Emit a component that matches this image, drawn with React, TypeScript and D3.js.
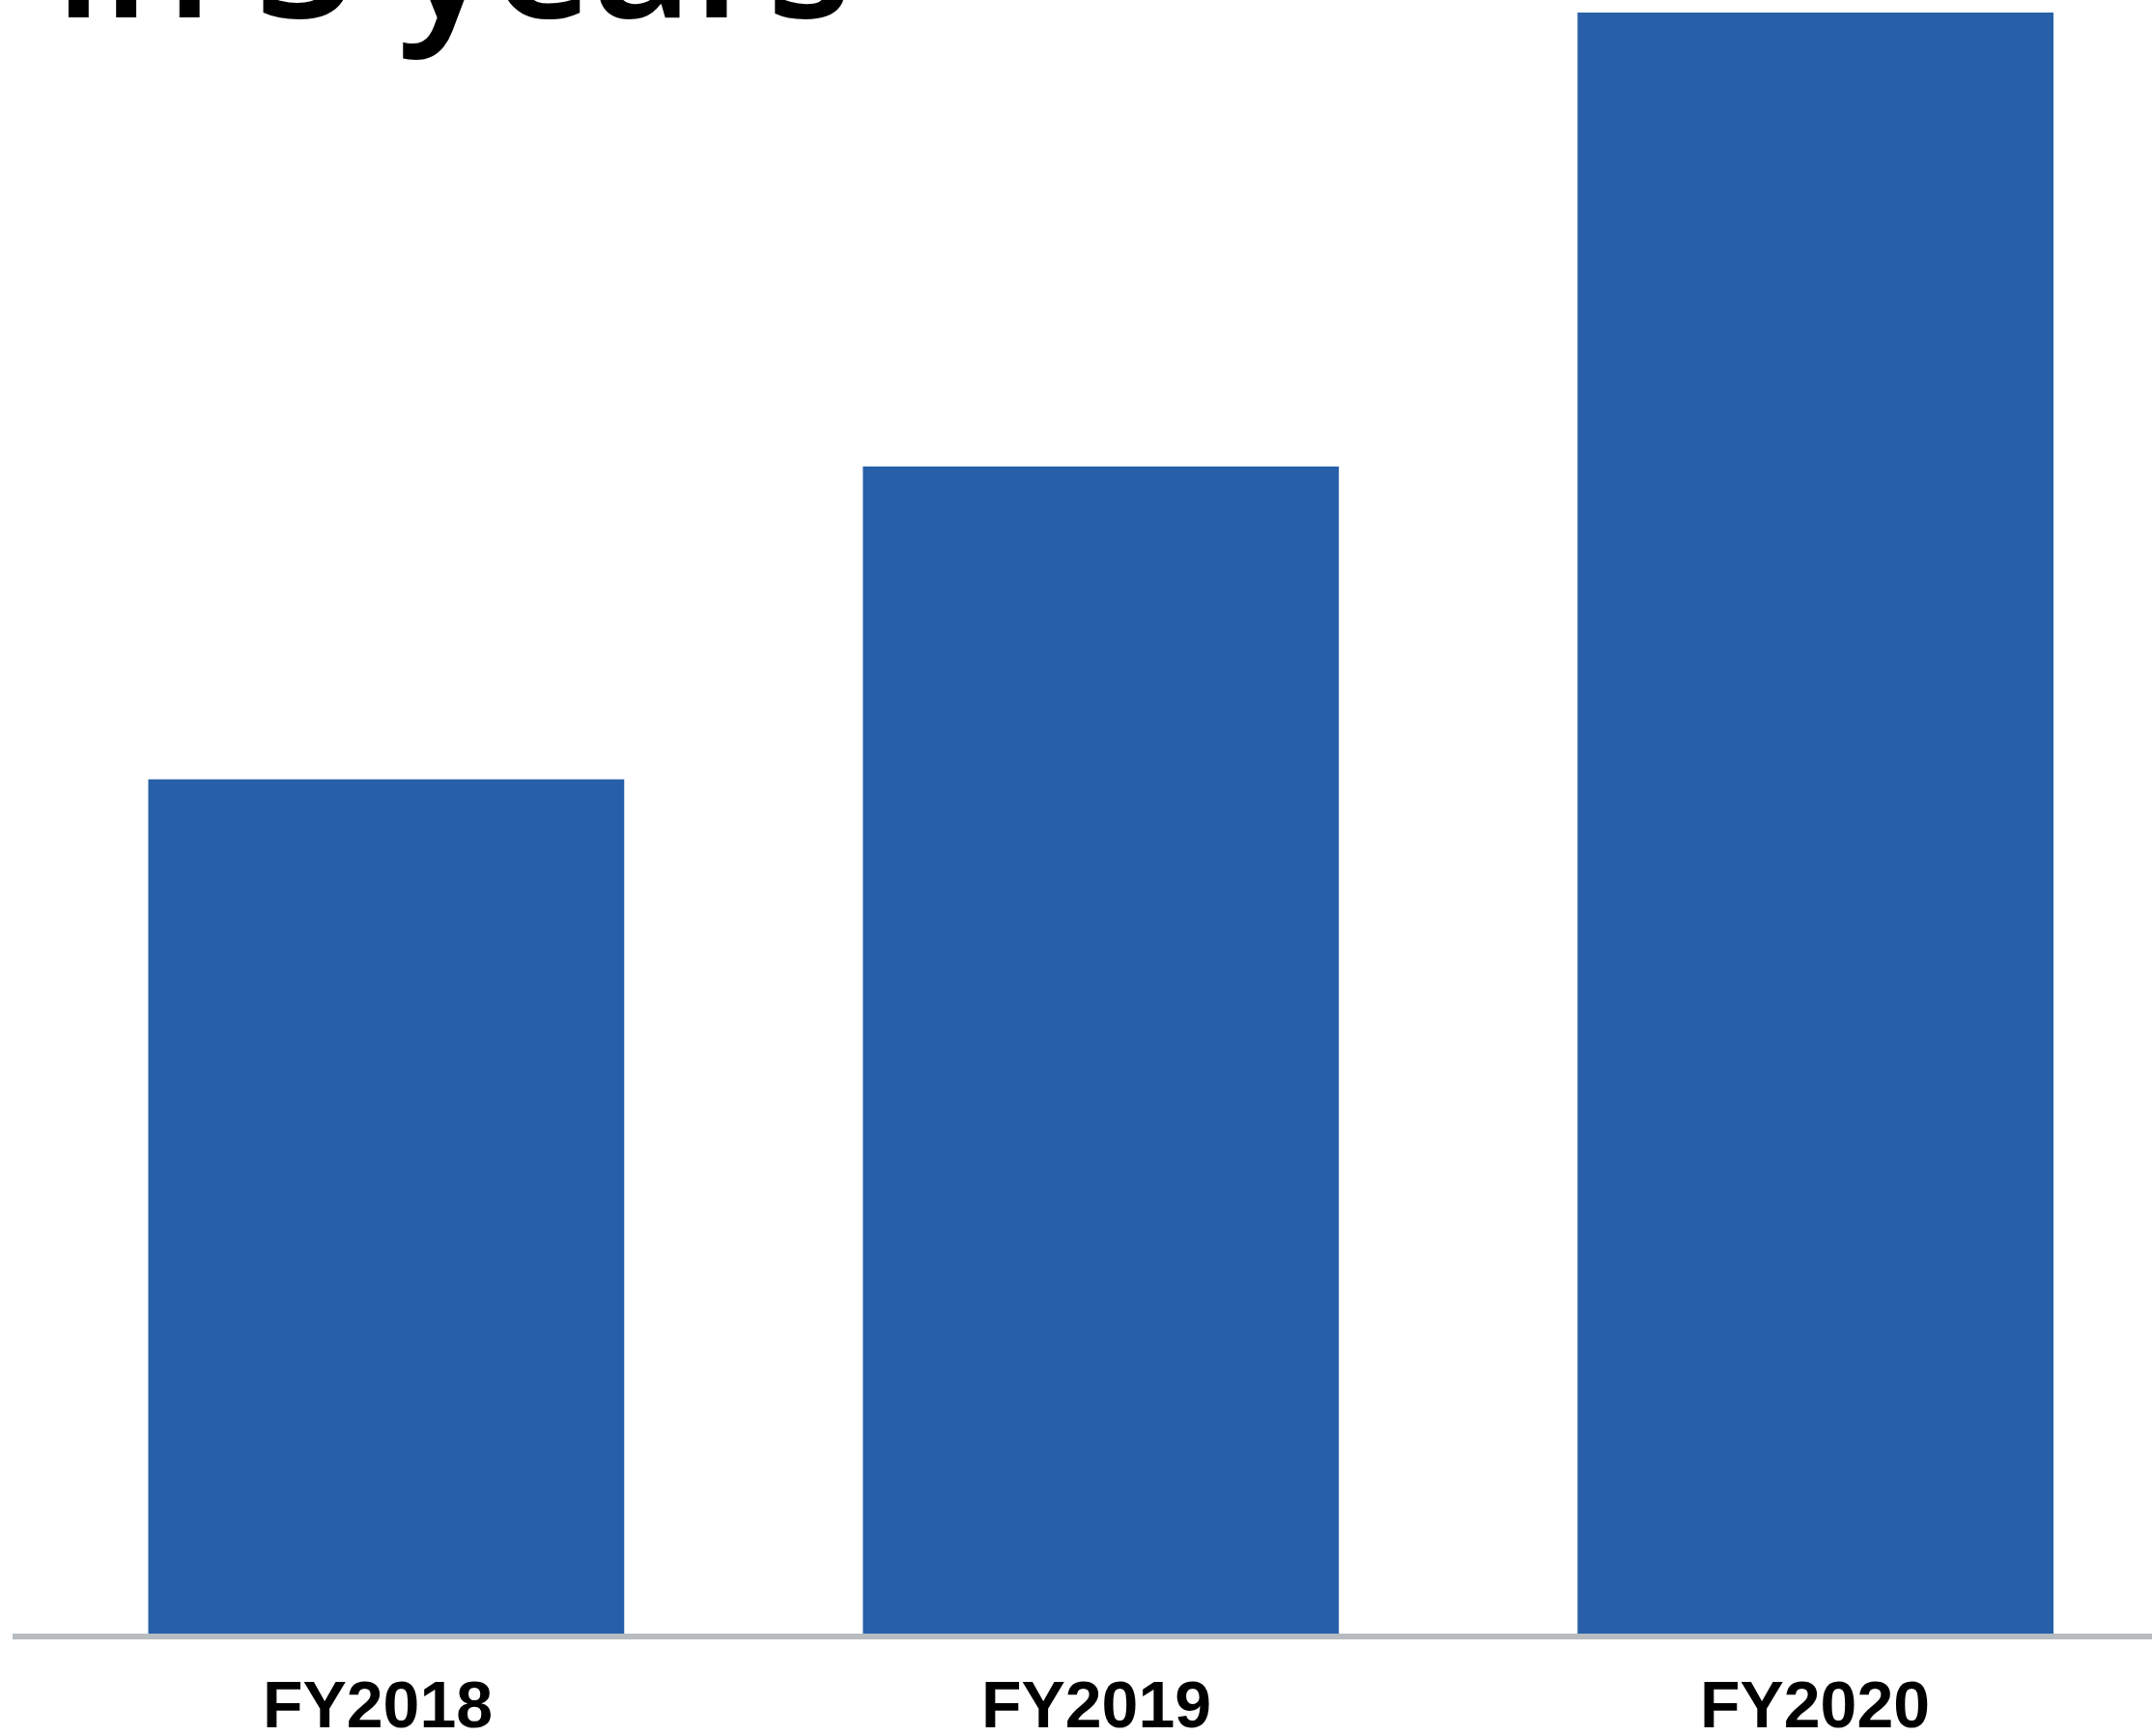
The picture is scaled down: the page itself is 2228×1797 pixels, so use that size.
import React from "react";
import * as d3 from "d3";

const categories = ["FY2018", "FY2019", "FY2020"];
const values = [52.7, 72.0, 100.0];
const titleText = "in 3 years";

const W = 2228;
const H = 1797;
const BASE = 1691;
const TOP = 13;

export default function App() {
  const x = d3
    .scaleBand<string>()
    .domain(categories)
    .range([153.5, 2126])
    .paddingInner(0.334)
    .paddingOuter(0);
  const xl = d3.scalePoint<string>().domain(categories).range([391, 1879]);
  const y = d3.scaleLinear().domain([0, d3.max(values) as number]).range([BASE, TOP]);

  return (
    <svg
      width={W}
      height={H}
      style={{ position: "absolute", left: 0, top: 0, background: "#fff" }}
    >
      <text
        x={56}
        y={18}
        fontFamily="'Open Sans', sans-serif"
        fontWeight={600}
        fontSize={182}
        fill="#000"
        textLength={826}
        lengthAdjust="spacing"
      >
        {titleText}
      </text>
      {categories.map((c, i) => (
        <rect
          key={c}
          x={x(c)}
          y={y(values[i])}
          width={x.bandwidth()}
          height={BASE - y(values[i])}
          fill="#2760a8"
        />
      ))}
      <line x1={13} x2={W} y1={1694} y2={1694} stroke="#b7bcc0" strokeWidth={6} />
      {categories.map((c) => (
        <text
          key={c}
          x={xl(c)}
          y={1788}
          textAnchor="middle"
          fontFamily="'Liberation Sans', Arial, sans-serif"
          fontWeight={700}
          fontSize={68}
          fill="#000"
        >
          {c}
        </text>
      ))}
    </svg>
  );
}
